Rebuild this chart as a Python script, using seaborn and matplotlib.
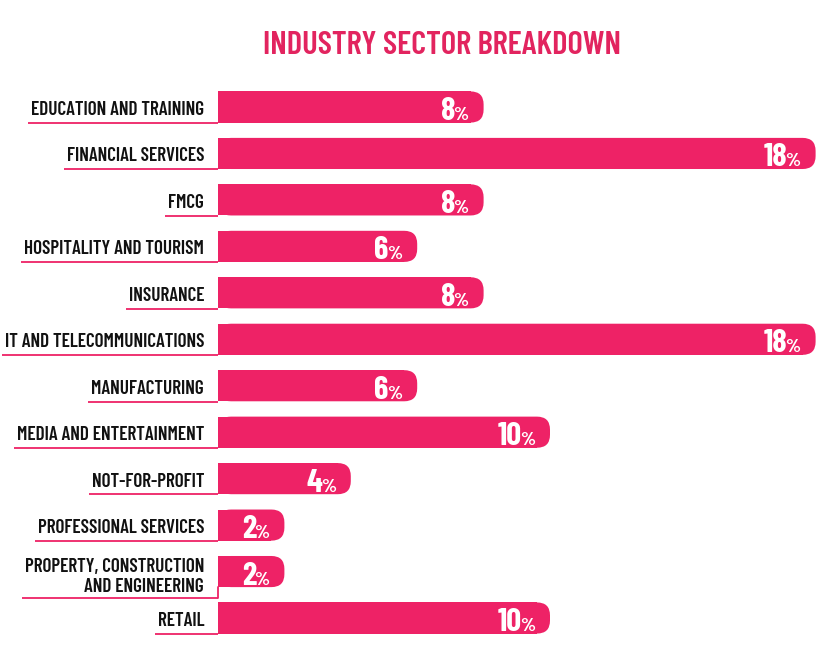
import matplotlib
matplotlib.use("Agg")
import matplotlib.pyplot as plt
import matplotlib.font_manager as fm
import matplotlib.transforms as mtransforms
from matplotlib.patches import FancyBboxPatch
import pandas as pd
import seaborn as sns

sectors = ["EDUCATION AND TRAINING", "FINANCIAL SERVICES", "FMCG",
           "HOSPITALITY AND TOURISM", "INSURANCE", "IT AND TELECOMMUNICATIONS",
           "MANUFACTURING", "MEDIA AND ENTERTAINMENT", "NOT-FOR-PROFIT",
           "PROFESSIONAL SERVICES", "PROPERTY, CONSTRUCTION\nAND ENGINEERING", "RETAIL"]
shares = [8, 18, 8, 6, 8, 18, 6, 10, 4, 2, 2, 10]

pink = "#EE2266"
title_pink = "#E2245F"

# condensed font if we have one
names = {f.name for f in fm.fontManager.ttflist}
font = "DejaVu Sans"
for cand in ["Barlow Condensed", "Roboto Condensed", "Oswald", "PT Sans Narrow",
             "Archivo Narrow", "Liberation Sans Narrow"]:
    if cand in names:
        font = cand
        break

sns.set_style("white")
plt.rcParams["font.family"] = [font, "DejaVu Sans"]

df = pd.DataFrame({"sector": sectors, "share": shares})

W, H = 830, 653
fig = plt.figure(figsize=(W / 100, H / 100), dpi=100)
ax_left, ax_right = 218, 830
row0, rowN = 107, 618
step = (rowN - row0) / (len(sectors) - 1)
top_px = row0 - step / 2
bot_px = rowN + step / 2
ax = fig.add_axes([ax_left / W, 1 - bot_px / H, (ax_right - ax_left) / W, (bot_px - top_px) / H])

px_per_unit = 33.2
ax.set_xlim(0, (ax_right - ax_left) / px_per_unit)

sns.barplot(data=df, y="sector", x="share", color=pink, width=0.67,
            saturation=1, linewidth=0, ax=ax, orient="h")
ax.set_ylim(len(sectors) - 0.5, -0.5)
ax.set_xlabel("")
ax.set_ylabel("")
ax.set_xticks([])
ax.set_yticks([])
for s in ax.spines.values():
    s.set_visible(False)

# rounded right ends
r_px = 13
r_x = r_px / px_per_unit
aspect = px_per_unit / step
for bar in list(ax.patches):
    x0, y0, w, h = bar.get_x(), bar.get_y(), bar.get_width(), bar.get_height()
    bar.set_width(w - r_x)
    ax.add_patch(FancyBboxPatch((x0, y0), w, h,
                                boxstyle=f"round,pad=0,rounding_size={r_x}",
                                mutation_aspect=aspect, fc=pink, ec="none", lw=0))

# value labels
fig.canvas.draw()
renderer = fig.canvas.get_renderer()
pct_tr = mtransforms.offset_copy(ax.transData, fig=fig, x=-15, y=0, units="dots")
for i, v in enumerate(shares):
    t = ax.text(v, i + 0.28, "%", color="white", fontsize=14, fontweight="bold",
                ha="right", va="baseline", transform=pct_tr)
    pw = t.get_window_extent(renderer).width
    num_tr = mtransforms.offset_copy(ax.transData, fig=fig, x=-15 - pw + 1.5, y=0, units="dots")
    ax.text(v, i + 0.28, str(v), color="white", fontsize=23.5, fontweight="bold",
            ha="right", va="baseline", transform=num_tr)

# category labels with underline
lab_tr = mtransforms.offset_copy(ax.transData, fig=fig, x=-14, y=0, units="dots")
inv = ax.transData.inverted()
for i, name in enumerate(sectors):
    multi = "\n" in name
    t = ax.text(0, i + (0.44 if multi else 0.17), name, fontsize=13.8, fontweight="semibold",
                color="#111111", ha="right", va="baseline", transform=lab_tr,
                linespacing=1.15, multialignment="right")
    bb = t.get_window_extent(renderer)
    xs = inv.transform((bb.x0 - 3, 0))[0]
    y_line = i + (0.58 if multi else 0.34)
    ax.plot([xs, 0], [y_line, y_line], color=pink, lw=1.3,
            solid_capstyle="butt", clip_on=False)
    if multi:
        ax.plot([0, 0], [i + 0.33, y_line], color=pink, lw=1.3, clip_on=False)

fig.text(442 / W, 1 - 45 / H, "INDUSTRY SECTOR BREAKDOWN", color=title_pink,
         fontsize=23.5, fontweight="semibold", ha="center", va="center")

fig.savefig("out.png", dpi=100)
